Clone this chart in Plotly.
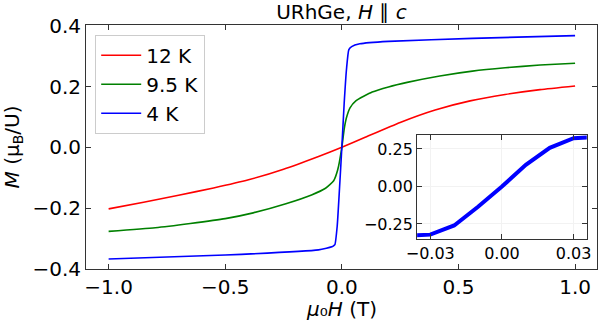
import plotly.graph_objects as go

# Magnetisation curves of URhGe, field along c
field_12K = [-1.0, -0.85, -0.7, -0.55, -0.4, -0.25, -0.1, 0.0,
             0.1, 0.25, 0.4, 0.55, 0.7, 0.85, 1.0]
m_12K = [-0.203, -0.181, -0.158, -0.134, -0.107, -0.072, -0.030, 0.0,
         0.033, 0.082, 0.123, 0.153, 0.174, 0.190, 0.202]

field_9K5 = [-1.0, -0.8, -0.65, -0.5, -0.38, -0.24, -0.13, -0.07, -0.035,
             -0.018, 0.0, 0.01, 0.02, 0.035, 0.06, 0.13, 0.2, 0.28, 0.42,
             0.56, 0.7, 0.85, 1.0]
m_9K5 = [-0.277, -0.265, -0.251, -0.235, -0.216, -0.186, -0.157, -0.135,
         -0.110, -0.075, 0.0, 0.060, 0.098, 0.130, 0.153, 0.182, 0.199,
         0.214, 0.235, 0.251, 0.262, 0.271, 0.277]

field_4K = [-1.0, -0.5, -0.1, -0.04, -0.035, -0.03, -0.02, -0.01, 0.0,
            0.01, 0.02, 0.03, 0.042, 0.077, 0.2, 0.56, 1.0]
m_4K = [-0.368, -0.355, -0.338, -0.327, -0.324, -0.321, -0.260, -0.135, 0.0,
        0.145, 0.258, 0.322, 0.332, 0.341, 0.349, 0.359, 0.368]

series = [("12 K", field_12K, m_12K, "#ff0000"),
          ("9.5 K", field_9K5, m_9K5, "#008000"),
          ("4 K", field_4K, m_4K, "#0000ff")]

main_ticks_x = [-1.0, -0.5, 0.0, 0.5, 1.0]
main_ticks_y = [-0.4, -0.2, 0.0, 0.2, 0.4]
inset_ticks_x = [-0.03, 0.0, 0.03]
inset_ticks_y = [-0.25, 0.0, 0.25]


def label(v, fmt):
    return (fmt % v).replace("-", "−")


FONT = "DejaVu Sans"
SPINE = "#333333"

fig = go.Figure()
for name, h, m, col in series:
    fig.add_trace(go.Scatter(x=h, y=m, mode="lines", name=name,
                             line=dict(color=col, width=1.6, shape="spline",
                                       smoothing=0.5),
                             xaxis="x", yaxis="y"))

# zoom on the low-field part of the 4 K curve
fig.add_trace(go.Scatter(x=field_4K, y=m_4K, mode="lines", showlegend=False,
                         line=dict(color="#0000ff", width=4),
                         xaxis="x2", yaxis="y2"))

axis_common = dict(showline=True, linecolor=SPINE, linewidth=1, mirror="allticks",
                   ticks="inside", ticklen=5, tickwidth=1, tickcolor=SPINE,
                   zeroline=False, automargin=False)

fig.update_layout(
    width=600, height=322,
    margin=dict(l=86, r=3, t=25, b=53),
    paper_bgcolor="white", plot_bgcolor="white",
    font=dict(family=FONT, size=20, color="black"),
    title=dict(text="URhGe, <i>H</i> ∥ <i>c</i>", x=0.569, xanchor="center",
               y=0.962, yanchor="middle", yref="container",
               font=dict(size=20)),
    xaxis=dict(range=[-1.097, 1.094], tickvals=main_ticks_x,
               ticktext=[label(v, "%.1f") for v in main_ticks_x],
               showgrid=False, **axis_common),
    yaxis=dict(range=[-0.401, 0.403], tickvals=main_ticks_y,
               ticktext=[label(v, "%.1f") for v in main_ticks_y],
               showgrid=False,
               title=dict(text="<i>M</i> (μ<sub>B</sub>/U)", standoff=8,
                          font=dict(size=20)),
               **axis_common),
    xaxis2=dict(domain=[0.648, 0.980], anchor="y2", range=[-0.0355, 0.0355],
                tickvals=inset_ticks_x,
                ticktext=[label(v, "%.2f") for v in inset_ticks_x],
                tickfont=dict(size=16), showgrid=True, gridcolor="#f2f2f2",
                **axis_common),
    yaxis2=dict(domain=[0.123, 0.549], anchor="x2", range=[-0.35, 0.343],
                tickvals=inset_ticks_y,
                ticktext=[label(v, "%.2f") for v in inset_ticks_y],
                tickfont=dict(size=16), showgrid=True, gridcolor="#f2f2f2",
                **axis_common),
    legend=dict(x=0.018, y=0.96, xanchor="left", yanchor="top",
                bgcolor="white", bordercolor="#cccccc", borderwidth=1,
                font=dict(size=20), itemwidth=40, tracegroupgap=0),
    showlegend=True,
)

# field axis label, placed just under the tick labels
fig.add_annotation(text="<i>μ</i>₀<i>H</i> (T)", xref="paper",
                   yref="paper", x=0.5, y=-0.164, xanchor="center",
                   yanchor="middle", showarrow=False, font=dict(size=20))

# white panel behind the inset axes
fig.add_shape(type="rect", xref="x2 domain", yref="y2 domain",
              x0=0, x1=1, y0=0, y1=1, fillcolor="white",
              line=dict(width=0), layer="below")

fig.write_html("out.html")
